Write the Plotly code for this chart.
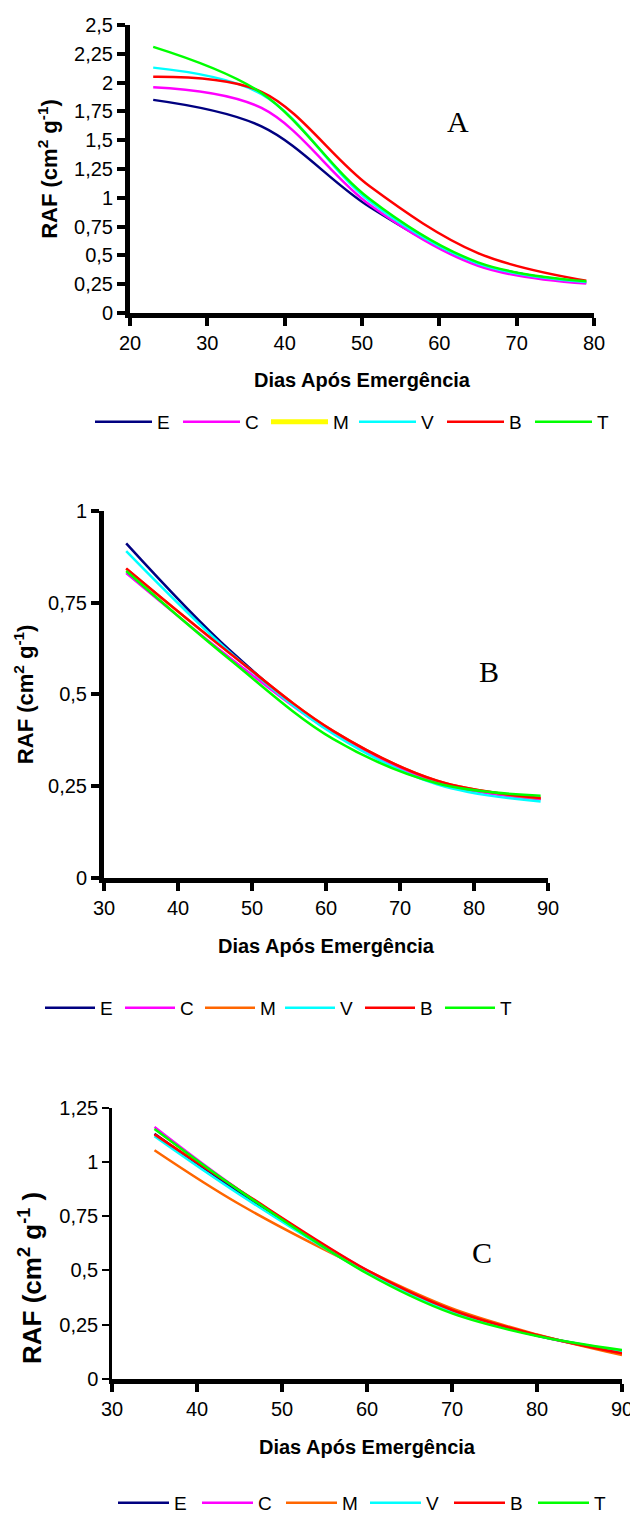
import plotly.graph_objects as go

# ---------------- data ----------------
series = ["E", "C", "M", "V", "B", "T"]

# Panel A
xA = [23, 37, 51, 65, 79]
A_E = [1.85, 1.62, 0.92, 0.43, 0.265]
A_C = [1.96, 1.78, 0.94, 0.41, 0.255]
A_M = [None]  # series only shown in the legend of panel A
A_V = [2.13, 1.90, 0.97, 0.43, 0.27]
A_B = [2.05, 1.92, 1.10, 0.52, 0.28]
A_T = [2.31, 1.91, 0.99, 0.44, 0.275]

# Panel B
xB = [33, 47, 61, 75, 89]
B_E = [0.911, 0.620, 0.395, 0.262, 0.215]
B_C = [0.830, 0.600, 0.395, 0.260, 0.215]
B_M = [0.842, 0.612, 0.400, 0.265, 0.217]
B_V = [0.890, 0.615, 0.392, 0.255, 0.208]
B_B = [0.843, 0.612, 0.400, 0.265, 0.218]
B_T = [0.836, 0.595, 0.378, 0.258, 0.224]

# Panel C
xC = [35, 45, 60, 70, 80, 90]
C_E = [1.130, 0.860, 0.495, 0.310, 0.200, 0.125]
C_C = [1.161, 0.870, 0.500, 0.315, 0.200, 0.120]
C_M = [1.054, 0.805, 0.500, 0.325, 0.205, 0.110]
C_V = [1.118, 0.850, 0.490, 0.310, 0.200, 0.128]
C_B = [1.127, 0.870, 0.502, 0.318, 0.203, 0.118]
C_T = [1.152, 0.868, 0.486, 0.302, 0.198, 0.133]

colors_A = {"E": "#000080", "C": "#FF00FF", "M": "#FFFF00", "V": "#00FFFF", "B": "#FF0000", "T": "#00FF00"}
colors_BC = {"E": "#000080", "C": "#FF00FF", "M": "#FF6600", "V": "#00FFFF", "B": "#FF0000", "T": "#00FF00"}

FONT = "Liberation Sans, Arial, sans-serif"
# the page body has an 8px margin, so the figure is 8px smaller than the window
OFF = 8
W, H = 638 - OFF, 1516 - OFF

fig = go.Figure()

panelA = {"E": A_E, "C": A_C, "M": A_M, "V": A_V, "B": A_B, "T": A_T}
panelB = {"E": B_E, "C": B_C, "M": B_M, "V": B_V, "B": B_B, "T": B_T}
panelC = {"E": C_E, "C": C_C, "M": C_M, "V": C_V, "B": C_B, "T": C_T}

for s in series:
    ys = panelA[s]
    fig.add_trace(go.Scatter(
        x=xA[:len(ys)], y=ys, name=s, mode="lines", line_shape="spline",
        line=dict(color=colors_A[s], width=5 if s == "M" else 2.5),
        xaxis="x", yaxis="y", legend="legend"))
for s in series:
    fig.add_trace(go.Scatter(
        x=xB, y=panelB[s], name=s, mode="lines", line_shape="spline",
        line=dict(color=colors_BC[s], width=2.5),
        xaxis="x2", yaxis="y2", legend="legend2"))
for s in series:
    fig.add_trace(go.Scatter(
        x=xC, y=panelC[s], name=s, mode="lines", line_shape="spline",
        line=dict(color=colors_BC[s], width=2.5),
        xaxis="x3", yaxis="y3", legend="legend3"))


def px_x(p):
    return (p - OFF) / W


def px_y(p):
    return (H - (p - OFF)) / H


axis_common = dict(showgrid=False, zeroline=False, showline=True, linecolor="black",
                   ticks="outside", tickcolor="black", mirror=False, automargin=False,
                   tickfont=dict(family=FONT, size=20, color="black"))

xtitle_font = dict(family=FONT, size=20, color="black")
xtitle_text = "<b>Dias Após Emergência</b>"
ytitle = "<b>RAF (cm<sup>2</sup> g<sup>-1</sup>)</b>"
legend_font = dict(family=FONT, size=19, color="black")

fig.update_layout(
    width=W, height=H, margin=dict(l=0, r=0, t=0, b=0, autoexpand=False),
    paper_bgcolor="white", plot_bgcolor="white",
    separators=",.",
    font=dict(family=FONT, color="black"),
    xaxis=dict(domain=[px_x(130), px_x(594)], range=[20, 80], dtick=10, anchor="y",
               linewidth=5, tickwidth=4, ticklen=8,
               title=dict(text=xtitle_text, font=xtitle_font, standoff=21), **axis_common),
    yaxis=dict(domain=[px_y(313), px_y(25)], range=[0, 2.5], dtick=0.25, anchor="x",
               linewidth=5, tickwidth=4, ticklen=8,
               title=dict(text=ytitle, font=dict(family=FONT, size=22, color="black"), standoff=12),
               **axis_common),
    xaxis2=dict(domain=[px_x(104), px_x(548)], range=[30, 90], dtick=10, anchor="y2",
                linewidth=5, tickwidth=4, ticklen=8,
                title=dict(text=xtitle_text, font=xtitle_font, standoff=22), **axis_common),
    yaxis2=dict(domain=[px_y(878), px_y(510.7)], range=[0, 1], dtick=0.25, anchor="x2",
                linewidth=5, tickwidth=4, ticklen=8,
                title=dict(text=ytitle, font=dict(family=FONT, size=22, color="black"), standoff=10),
                **axis_common),
    xaxis3=dict(domain=[px_x(112), px_x(622)], range=[30, 90], dtick=10, anchor="y3",
                linewidth=5, tickwidth=4, ticklen=8,
                title=dict(text=xtitle_text, font=xtitle_font, standoff=22), **axis_common),
    yaxis3=dict(domain=[px_y(1379), px_y(1107.7)], range=[0, 1.25], dtick=0.25, anchor="x3",
                linewidth=2.5, tickwidth=2, ticklen=7, **axis_common),
    legend=dict(orientation="h", x=px_x(90), xanchor="left", y=px_y(422), yanchor="middle",
                font=legend_font, bgcolor="rgba(0,0,0,0)", itemwidth=57, entrywidth=16,
                tracegroupgap=0),
    legend2=dict(orientation="h", x=px_x(40), xanchor="left", y=px_y(1008), yanchor="middle",
                 font=legend_font, bgcolor="rgba(0,0,0,0)", itemwidth=50, entrywidth=15,
                 tracegroupgap=0),
    legend3=dict(orientation="h", x=px_x(113), xanchor="left", y=px_y(1503), yanchor="middle",
                 font=legend_font, bgcolor="rgba(0,0,0,0)", itemwidth=51, entrywidth=18,
                 tracegroupgap=0),
)

# y-axis title of panel C (placed lower than the axis centre, as in the original)
fig.add_annotation(text="<b>RAF (cm<sup>2</sup> g<sup>-1</sup> )</b>", textangle=-90,
                   xref="paper", yref="paper", x=px_x(30), y=px_y(1278),
                   xanchor="center", yanchor="middle", showarrow=False,
                   font=dict(family=FONT, size=26, color="black"))

# panel letters
serif = "Liberation Serif, Times New Roman, serif"
fig.add_annotation(text="A", xref="x", yref="y", x=62.4, y=1.66, showarrow=False,
                   font=dict(family=serif, size=30, color="black"))
fig.add_annotation(text="B", xref="x2", yref="y2", x=82.0, y=0.561, showarrow=False,
                   font=dict(family=serif, size=30, color="black"))
fig.add_annotation(text="C", xref="x3", yref="y3", x=73.5, y=0.584, showarrow=False,
                   font=dict(family=serif, size=30, color="black"))

fig.write_html("out.html")
